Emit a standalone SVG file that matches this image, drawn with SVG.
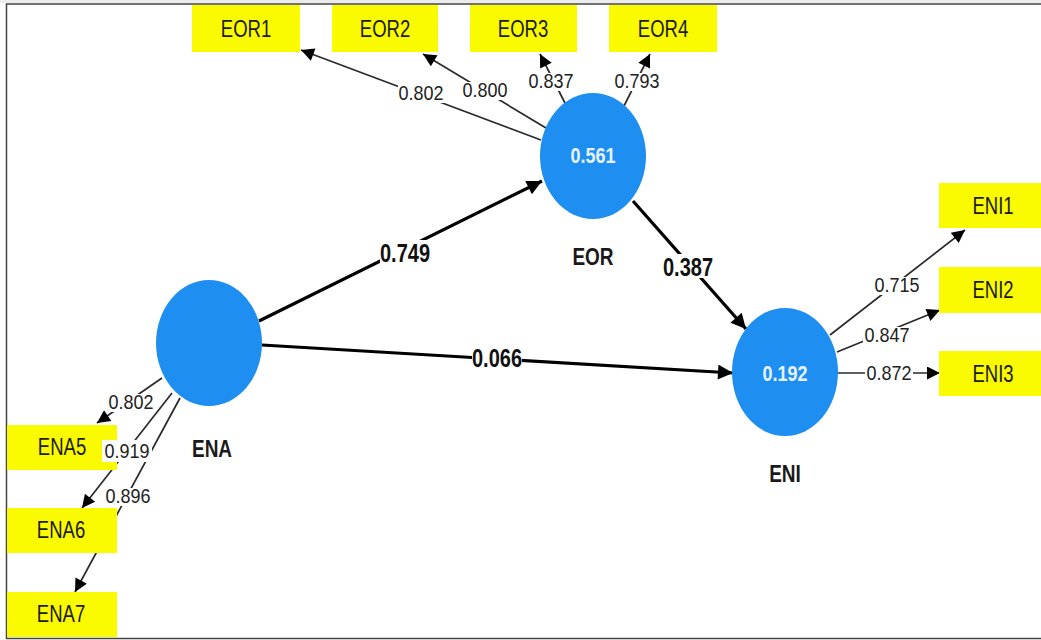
<svg xmlns="http://www.w3.org/2000/svg" width="1041" height="640" viewBox="0 0 1041 640">
<defs>
<style>
.box{fill:#fafa00}
.lv{fill:#1e8ff0}
.thin{stroke:#2a2a2a;stroke-width:1.7;fill:none}
.thick{stroke:#000;stroke-width:3.2;fill:none}
.ind{font-family:"Liberation Sans",Arial,sans-serif;font-size:18.5px;fill:#1a1a1a;text-anchor:middle}
.ld{font-family:"Liberation Sans",Arial,sans-serif;font-size:18px;fill:#222;text-anchor:middle}
.pc{font-family:"Liberation Sans",Arial,sans-serif;font-size:20px;font-weight:bold;fill:#111;text-anchor:middle}
.lvn{font-family:"Liberation Sans",Arial,sans-serif;font-size:19px;font-weight:bold;fill:#1a1a1a;text-anchor:middle}
.r2{font-family:"Liberation Sans",Arial,sans-serif;font-size:18px;font-weight:bold;fill:#e6f2ff;text-anchor:middle}
.bg{fill:#fff}
</style>
<marker id="ah" viewBox="0 0 10 10" refX="10" refY="5" markerWidth="16" markerHeight="13" markerUnits="userSpaceOnUse" orient="auto"><path d="M0,0 L10,5 L0,10 Z" fill="#000"/></marker>
<marker id="ahb" viewBox="0 0 10 10" refX="10" refY="5" markerWidth="19" markerHeight="15" markerUnits="userSpaceOnUse" orient="auto"><path d="M0,0 L10,5 L0,10 Z" fill="#000"/></marker>
</defs>
<rect x="0" y="0" width="1041" height="640" fill="#fff"/>
<rect x="0" y="0" width="1041" height="3" fill="#ececec"/>
<path d="M1041,4 H6.5 V638.5 H1041" fill="none" stroke="#444" stroke-width="1.5"/>

<g id="connectors">
<line class="thin" x1="541" y1="140" x2="301" y2="50" marker-end="url(#ah)"/>
<line class="thin" x1="546" y1="128" x2="423" y2="54" marker-end="url(#ah)"/>
<line class="thin" x1="567" y1="107" x2="540" y2="54" marker-end="url(#ah)"/>
<line class="thin" x1="622" y1="110" x2="650" y2="54" marker-end="url(#ah)"/>
<line class="thin" x1="162" y1="378" x2="97" y2="423" marker-end="url(#ah)"/>
<line class="thin" x1="172" y1="393" x2="82" y2="508" marker-end="url(#ah)"/>
<line class="thin" x1="180" y1="398" x2="75" y2="592" marker-end="url(#ah)"/>
<line class="thin" x1="830" y1="335" x2="965" y2="230" marker-end="url(#ah)"/>
<line class="thin" x1="837" y1="352" x2="940" y2="310" marker-end="url(#ah)"/>
<line class="thin" x1="838" y1="373" x2="940" y2="373" marker-end="url(#ah)"/>
<line class="thick" x1="259" y1="321" x2="542" y2="181" marker-end="url(#ahb)"/>
<line class="thick" x1="262" y1="345" x2="733" y2="373" marker-end="url(#ahb)"/>
<line class="thick" x1="633" y1="201" x2="746" y2="329" marker-end="url(#ahb)"/>
</g>

<g id="EOR1"><rect class="box" x="192" y="5" width="108" height="47"/><text class="ind" transform="translate(246,37) scale(1,1.25)">EOR1</text></g>
<g id="EOR2"><rect class="box" x="332" y="5" width="106" height="47"/><text class="ind" transform="translate(385,37) scale(1,1.25)">EOR2</text></g>
<g id="EOR3"><rect class="box" x="470" y="5" width="107" height="47"/><text class="ind" transform="translate(523,37) scale(1,1.25)">EOR3</text></g>
<g id="EOR4"><rect class="box" x="609" y="5" width="108" height="47"/><text class="ind" transform="translate(663,37) scale(1,1.25)">EOR4</text></g>
<g id="ENA5"><rect class="box" x="7" y="425" width="110" height="45"/><text class="ind" transform="translate(62,455) scale(1,1.25)">ENA5</text></g>
<g id="ENA6"><rect class="box" x="7" y="508" width="110" height="45"/><text class="ind" transform="translate(61,538) scale(1,1.25)">ENA6</text></g>
<g id="ENA7"><rect class="box" x="7" y="592" width="110" height="45"/><text class="ind" transform="translate(61,622) scale(1,1.25)">ENA7</text></g>
<g id="ENI1"><rect class="box" x="939" y="183" width="102" height="45"/><text class="ind" transform="translate(993,214) scale(1,1.25)">ENI1</text></g>
<g id="ENI2"><rect class="box" x="939" y="267" width="102" height="46"/><text class="ind" transform="translate(993,298) scale(1,1.25)">ENI2</text></g>
<g id="ENI3"><rect class="box" x="939" y="351" width="102" height="45"/><text class="ind" transform="translate(993,382) scale(1,1.25)">ENI3</text></g>

<g id="EOR"><ellipse class="lv" cx="593" cy="156" rx="53" ry="63"/><text class="r2" transform="translate(593,163) scale(1,1.2)">0.561</text><text class="lvn" transform="translate(593,265) scale(1,1.3)">EOR</text></g>
<g id="ENA"><ellipse class="lv" cx="209" cy="343" rx="53" ry="63"/><text class="lvn" transform="translate(212,457) scale(1,1.3)">ENA</text></g>
<g id="ENI"><ellipse class="lv" cx="785" cy="372" rx="53" ry="64"/><text class="r2" transform="translate(785,381) scale(1,1.2)">0.192</text><text class="lvn" transform="translate(785,482) scale(1,1.3)">ENI</text></g>

<g id="connector-labels">
<rect class="bg" x="398" y="85" width="47" height="18"/><text class="ld" transform="translate(421,100) scale(1,1.15)">0.802</text>
<rect class="bg" x="461" y="82" width="48" height="18"/><text class="ld" transform="translate(485,97) scale(1,1.15)">0.800</text>
<rect class="bg" x="527" y="73" width="48" height="18"/><text class="ld" transform="translate(551,88) scale(1,1.15)">0.837</text>
<rect class="bg" x="613" y="73" width="48" height="18"/><text class="ld" transform="translate(637,88) scale(1,1.15)">0.793</text>
<rect class="bg" x="107" y="394" width="48" height="18"/><text class="ld" transform="translate(131,409) scale(1,1.15)">0.802</text>
<rect class="bg" x="102" y="440" width="50" height="22"/><text class="ld" transform="translate(127,458) scale(1,1.15)">0.919</text>
<rect class="bg" x="104" y="488" width="48" height="18"/><text class="ld" transform="translate(128,503) scale(1,1.15)">0.896</text>
<rect class="bg" x="873" y="277" width="48" height="18"/><text class="ld" transform="translate(897,292) scale(1,1.15)">0.715</text>
<rect class="bg" x="863" y="327" width="48" height="18"/><text class="ld" transform="translate(887,342) scale(1,1.15)">0.847</text>
<rect class="bg" x="865" y="365" width="48" height="18"/><text class="ld" transform="translate(889,380) scale(1,1.15)">0.872</text>
<rect class="bg" x="380" y="240" width="50" height="24"/><text class="pc" transform="translate(405,262) scale(1,1.25)">0.749</text>
<rect class="bg" x="472" y="346" width="50" height="24"/><text class="pc" transform="translate(497,367) scale(1,1.25)">0.066</text>
<rect class="bg" x="663" y="254" width="50" height="24"/><text class="pc" transform="translate(688,276) scale(1,1.25)">0.387</text>
</g>
</svg>
